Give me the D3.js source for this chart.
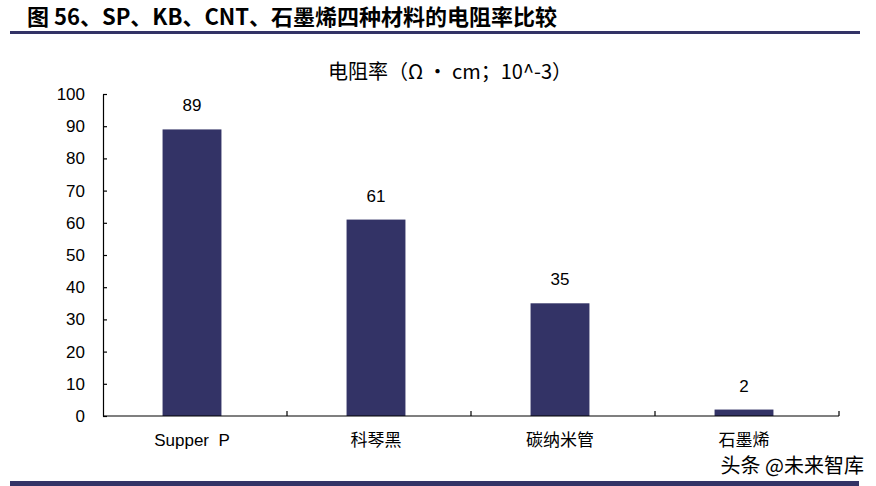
<!DOCTYPE html>
<html lang="zh">
<head>
<meta charset="UTF-8">
<script src="https://d3js.org/d3.v7.min.js"></script>
<style>
  body { margin: 0; background: #fff; }
  text { font-family: 'Liberation Sans', Arial, sans-serif; fill: #000; }
  .cjk { font-family: 'Noto Sans CJK SC', sans-serif; }
</style>
</head>
<body>
<script>
  const categories = ["Supper P", "科琴黑", "碳纳米管", "石墨烯"];
  const values = [89, 61, 35, 2];
  const yTicks = [0, 10, 20, 30, 40, 50, 60, 70, 80, 90, 100];

  const W = 876, H = 486;
  const margin = { left: 103, right: 37, top: 94, bottom: 70 };
  const navy = "#333366";

  const svg = d3.select("body").append("svg")
    .attr("width", W)
    .attr("height", H);

  // header
  svg.append("text")
    .attr("class", "cjk")
    .attr("x", 27).attr("y", 25)
    .attr("font-size", 22).attr("font-weight", "bold")
    .text("图 56、SP、KB、CNT、石墨烯四种材料的电阻率比较");
  svg.append("rect").attr("x", 10).attr("y", 31).attr("width", 850).attr("height", 3).attr("fill", navy);
  svg.append("rect").attr("x", 10).attr("y", 481).attr("width", 849).attr("height", 5).attr("fill", navy);

  svg.append("text")
    .attr("class", "cjk")
    .attr("x", 450).attr("y", 79)
    .attr("text-anchor", "middle")
    .attr("font-size", 20)
    .attr("fill", "#222")
    .text("电阻率（Ω • cm；10^-3）");

  // bars sit a little left of the category centres in the original
  const x = d3.scaleBand()
    .domain(categories)
    .range([margin.left - 3, W - margin.right - 3])
    .paddingInner(0.68).paddingOuter(0.34);

  const y = d3.scaleLinear()
    .domain([0, 100])
    .range([H - margin.bottom, margin.top]);

  // bars
  svg.selectAll("rect.bar")
    .data(values)
    .enter().append("rect")
    .attr("class", "bar")
    .attr("x", (d, i) => x(categories[i]))
    .attr("y", d => y(d))
    .attr("width", x.bandwidth())
    .attr("height", d => y(0) - y(d))
    .attr("fill", navy);

  svg.selectAll("text.val")
    .data(values)
    .enter().append("text")
    .attr("class", "val")
    .attr("x", (d, i) => x(categories[i]) + x.bandwidth() / 2)
    .attr("y", d => y(d) - 18)
    .attr("text-anchor", "middle")
    .attr("font-size", 17)
    .text(d => d);

  // y axis
  const yAxis = svg.append("g")
    .attr("transform", `translate(${margin.left},0)`)
    .call(d3.axisLeft(y).tickValues(yTicks).tickSizeInner(-4).tickSizeOuter(0).tickPadding(18));
  yAxis.selectAll("path, line").attr("stroke", "#000").attr("stroke-width", 1.2);
  yAxis.selectAll("text").attr("font-size", 17).attr("font-family", "'Liberation Sans', Arial, sans-serif");

  // x axis with category boundary ticks
  const xAxisG = svg.append("g")
    .attr("transform", `translate(0,${y(0)})`);
  xAxisG.append("line")
    .attr("x1", margin.left).attr("x2", W - margin.right)
    .attr("stroke", "#000").attr("stroke-width", 1.2);
  const bounds = d3.range(categories.length + 1).map(i => margin.left + i * (W - margin.left - margin.right) / categories.length);
  xAxisG.selectAll("line.tk")
    .data(bounds.slice(1))
    .enter().append("line")
    .attr("class", "tk")
    .attr("x1", d => d).attr("x2", d => d)
    .attr("y1", 0).attr("y2", -5)
    .attr("stroke", "#000").attr("stroke-width", 1.2);

  svg.selectAll("text.cat")
    .data(categories)
    .enter().append("text")
    .attr("class", (d, i) => i === 0 ? "cat" : "cat cjk")
    .attr("x", d => x(d) + x.bandwidth() / 2)
    .attr("y", y(0) + 30)
    .attr("text-anchor", "middle")
    .attr("font-size", 17)
    .attr("xml:space", "preserve")
    .text(d => d === "Supper P" ? "Supper  P" : d);

  // watermark
  svg.append("text")
    .attr("class", "cjk")
    .attr("x", 864).attr("y", 473)
    .attr("text-anchor", "end")
    .attr("font-size", 20)
    .attr("fill", "#333")
    .text("头条 @未来智库");
</script>
</body>
</html>
